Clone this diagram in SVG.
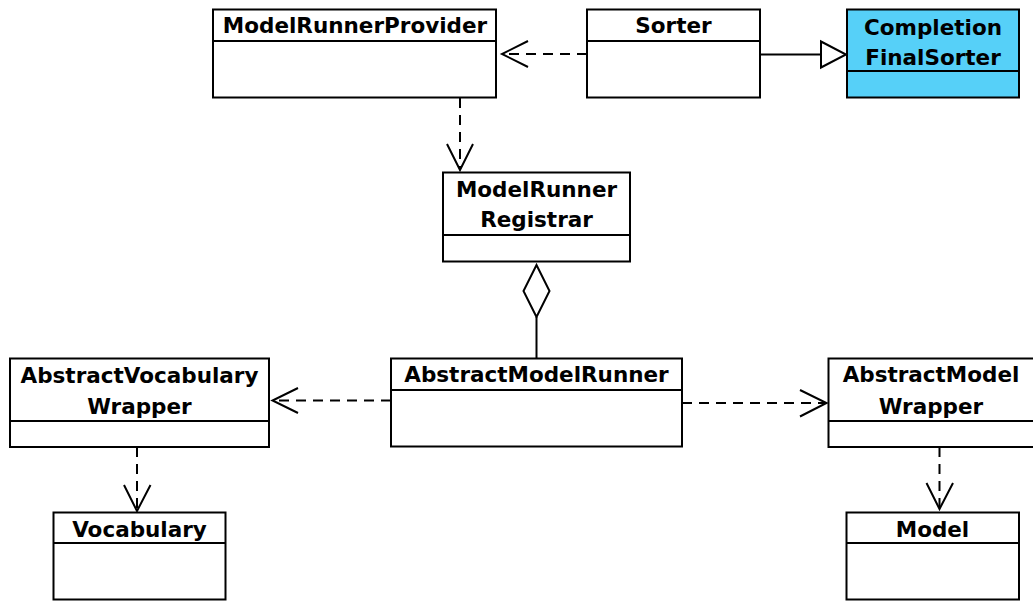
<svg xmlns="http://www.w3.org/2000/svg" width="1033" height="601" viewBox="0 0 1033 601">
  <style>
    .box { fill: #ffffff; stroke: #000000; stroke-width: 2; }
    .hl { fill: #56d0f8; }
    .sep { stroke: #000000; stroke-width: 2; }
    .name { font-family: "DejaVu Sans", "Liberation Sans", sans-serif; font-weight: bold; font-size: 21.5px; fill: #000000; text-anchor: middle; }
    .dep { fill: none; stroke: #000000; stroke-width: 2; stroke-dasharray: 10 7; }
    .solid { fill: none; stroke: #000000; stroke-width: 2; }
    .head { fill: none; stroke: #000000; stroke-width: 2; }
    .hollow { fill: #ffffff; stroke: #000000; stroke-width: 2; }
  </style>
  <rect width="1033" height="601" fill="#ffffff"/>

  <!-- classes -->
  <g id="ModelRunnerProvider">
    <rect class="box" x="213" y="9.5" width="283" height="88"/>
    <line class="sep" x1="213" y1="41" x2="496" y2="41"/>
    <text class="name" x="355" y="32.5">ModelRunnerProvider</text>
  </g>
  <g id="Sorter">
    <rect class="box" x="587" y="9.5" width="173" height="88"/>
    <line class="sep" x1="587" y1="41" x2="760" y2="41"/>
    <text class="name" x="673.5" y="32.5">Sorter</text>
  </g>
  <g id="CompletionFinalSorter">
    <rect class="box hl" x="847" y="9.5" width="172" height="88"/>
    <line class="sep" x1="847" y1="71" x2="1019" y2="71"/>
    <text class="name" x="933" y="35">Completion</text>
    <text class="name" x="933" y="64.5">FinalSorter</text>
  </g>
  <g id="ModelRunnerRegistrar">
    <rect class="box" x="443" y="172.5" width="187" height="89"/>
    <line class="sep" x1="443" y1="235" x2="630" y2="235"/>
    <text class="name" x="536.5" y="196.5">ModelRunner</text>
    <text class="name" x="536.5" y="226.5">Registrar</text>
  </g>
  <g id="AbstractModelRunner">
    <rect class="box" x="391" y="358.5" width="291" height="88"/>
    <line class="sep" x1="391" y1="390" x2="682" y2="390"/>
    <text class="name" x="536.5" y="382">AbstractModelRunner</text>
  </g>
  <g id="AbstractVocabularyWrapper">
    <rect class="box" x="10" y="358.5" width="259" height="88.5"/>
    <line class="sep" x1="10" y1="421" x2="269" y2="421"/>
    <text class="name" x="139.5" y="383">AbstractVocabulary</text>
    <text class="name" x="139.5" y="413.5">Wrapper</text>
  </g>
  <g id="AbstractModelWrapper">
    <rect class="box" x="828.5" y="358.5" width="208" height="88.5"/>
    <line class="sep" x1="828.5" y1="421" x2="1036" y2="421"/>
    <text class="name" x="931" y="382">AbstractModel</text>
    <text class="name" x="931" y="413.5">Wrapper</text>
  </g>
  <g id="Vocabulary">
    <rect class="box" x="53.5" y="512.5" width="172" height="87"/>
    <line class="sep" x1="53.5" y1="543" x2="225.5" y2="543"/>
    <text class="name" x="139.5" y="536.5">Vocabulary</text>
  </g>
  <g id="Model">
    <rect class="box" x="846.5" y="512.5" width="172.5" height="87"/>
    <line class="sep" x1="846.5" y1="543" x2="1019" y2="543"/>
    <text class="name" x="932.5" y="536.5">Model</text>
  </g>

  <!-- connectors -->
  <g id="connectors">
    <!-- Sorter depends on ModelRunnerProvider -->
    <line class="dep" x1="587" y1="54" x2="503" y2="54"/>
    <polyline class="head" points="528,41 502,54 528,67"/>
    <!-- Sorter generalizes CompletionFinalSorter -->
    <line class="solid" x1="760" y1="54.5" x2="821" y2="54.5"/>
    <polygon class="hollow" points="821,41.5 846,54.5 821,67.5"/>
    <!-- ModelRunnerProvider depends on ModelRunnerRegistrar -->
    <line class="dep" x1="460" y1="98" x2="460" y2="169"/>
    <polyline class="head" points="447,144 460,170 473,144"/>
    <!-- aggregation: registrar holds model runners -->
    <polygon class="hollow" points="536.5,265 549.5,291 536.5,317 523.5,291"/>
    <line class="solid" x1="536.5" y1="317" x2="536.5" y2="358.5"/>
    <!-- AbstractModelRunner depends on AbstractVocabularyWrapper -->
    <line class="dep" x1="391" y1="400.5" x2="274" y2="400.5"/>
    <polyline class="head" points="298,388 272.5,400.5 298,413"/>
    <!-- AbstractModelRunner depends on AbstractModelWrapper -->
    <line class="dep" x1="682" y1="403" x2="825" y2="403"/>
    <polyline class="head" points="800,390 826.5,403 800,416.5"/>
    <!-- AbstractVocabularyWrapper depends on Vocabulary -->
    <line class="dep" x1="137" y1="447" x2="137" y2="510"/>
    <polyline class="head" points="124,485 137,511 150.5,485"/>
    <!-- AbstractModelWrapper depends on Model -->
    <line class="dep" x1="939.5" y1="447" x2="939.5" y2="508"/>
    <polyline class="head" points="926.5,483 939.5,509 953,483"/>
  </g>
</svg>
